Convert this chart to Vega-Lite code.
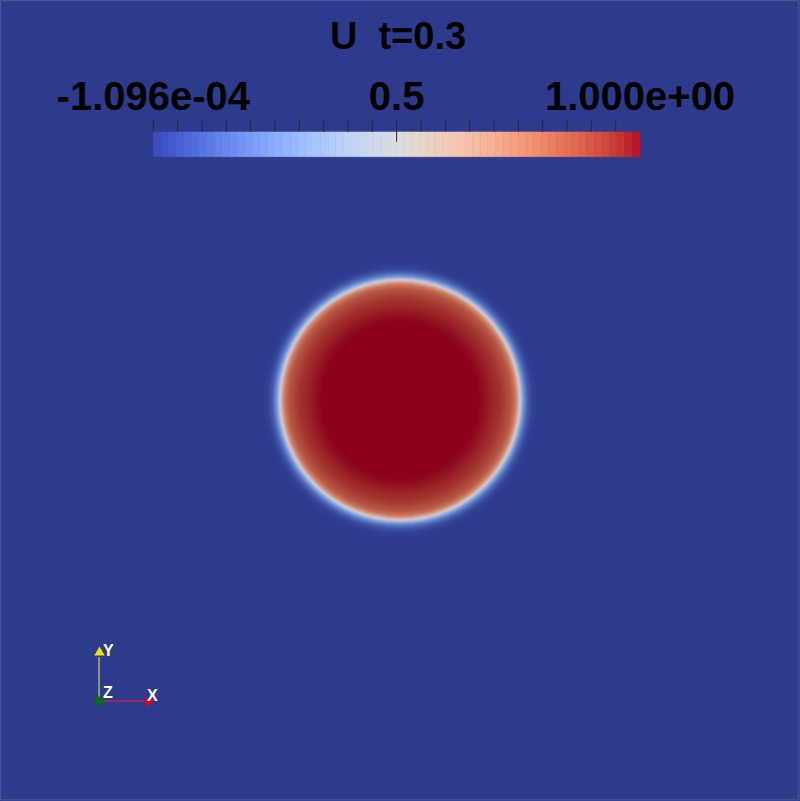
{
  "$schema": "https://vega.github.io/schema/vega-lite/v6.json",
  "width": 800,
  "height": 801,
  "padding": 0,
  "autosize": {"type": "none"},
  "background": "#2E3A8C",
  "config": {
    "view": {"stroke": null},
    "axis": {"disable": true},
    "legend": {"disable": true}
  },
  "resolve": {"scale": {"x": "independent", "color": "independent", "shape": "independent", "size": "independent"}},
  "layer": [
    {
      "data": {"values": [
        {"r": 0.175, "u": 0.003}, {"r": 0.17125, "u": 0.008}, {"r": 0.16875, "u": 0.015}, {"r": 0.16625, "u": 0.025},
        {"r": 0.165, "u": 0.035}, {"r": 0.16375, "u": 0.05}, {"r": 0.1625, "u": 0.065}, {"r": 0.16125, "u": 0.085},
        {"r": 0.16, "u": 0.11}, {"r": 0.15875, "u": 0.14}, {"r": 0.1575, "u": 0.18}, {"r": 0.15625, "u": 0.22},
        {"r": 0.155, "u": 0.27}, {"r": 0.15375, "u": 0.33}, {"r": 0.1525, "u": 0.4}, {"r": 0.15125, "u": 0.47},
        {"r": 0.15, "u": 0.54}, {"r": 0.14875, "u": 0.61}, {"r": 0.1475, "u": 0.67}, {"r": 0.14625, "u": 0.72},
        {"r": 0.145, "u": 0.76}, {"r": 0.14375, "u": 0.79}, {"r": 0.1425, "u": 0.81}, {"r": 0.14125, "u": 0.83},
        {"r": 0.14, "u": 0.845}, {"r": 0.13875, "u": 0.86}, {"r": 0.1375, "u": 0.87}, {"r": 0.135, "u": 0.885},
        {"r": 0.1325, "u": 0.9}, {"r": 0.13, "u": 0.913}, {"r": 0.1275, "u": 0.925}, {"r": 0.125, "u": 0.937},
        {"r": 0.12125, "u": 0.95}, {"r": 0.1175, "u": 0.962}, {"r": 0.11375, "u": 0.973}, {"r": 0.11, "u": 0.982},
        {"r": 0.10625, "u": 0.99}, {"r": 0.1025, "u": 0.996}, {"r": 0.09875, "u": 1.0}
      ]},
      "mark": {"type": "point", "shape": "circle", "filled": true, "opacity": 1, "strokeWidth": 0},
      "encoding": {
        "x": {"datum": 0.5, "type": "quantitative", "scale": {"domain": [0, 1]}},
        "y": {"datum": 0.5006, "type": "quantitative", "scale": {"domain": [0, 1]}},
        "size": {"field": "r", "type": "quantitative", "scale": {"type": "pow", "exponent": 2, "domain": [0, 0.5], "range": [0, 640000], "zero": true}},
        "color": {"field": "u", "type": "quantitative", "scale": {
          "domain": [0, 0.125, 0.25, 0.375, 0.5, 0.625, 0.75, 0.875, 1],
          "range": ["#2E3A8C", "#4E68BB", "#7592D3", "#A0B5D9", "#CACDD6", "#D5AB96", "#CB8066", "#B24D3E", "#8E021E"]
        }}
      }
    },
    {
      "data": {"values": [{"t": "U\u00a0\u00a0t=0.3"}]},
      "mark": {"type": "text", "font": "Liberation Sans", "fontWeight": "bold", "fontSize": 38, "color": "#000000", "align": "center", "baseline": "alphabetic"},
      "encoding": {
        "text": {"field": "t"},
        "x": {"datum": 0.4975, "type": "quantitative", "scale": {"domain": [0, 1]}},
        "y": {"datum": 0.9388, "type": "quantitative", "scale": {"domain": [0, 1]}}
      }
    },
    {
      "data": {"values": [
        {"axis": "Y", "x": 0.1238, "y": 0.1248, "x2": 0.1238, "y2": 0.1798},
        {"axis": "X", "x": 0.1238, "y": 0.1248, "x2": 0.1825, "y2": 0.1248}
      ]},
      "mark": {"type": "rule", "strokeWidth": 1.2},
      "encoding": {
        "x": {"field": "x", "type": "quantitative", "scale": {"domain": [0, 1]}},
        "y": {"field": "y", "type": "quantitative", "scale": {"domain": [0, 1]}},
        "x2": {"field": "x2"},
        "y2": {"field": "y2"},
        "color": {"field": "axis", "type": "nominal", "scale": {"domain": ["X", "Y"], "range": ["#D0203A", "#D8D060"]}}
      }
    },
    {
      "data": {"values": [
        {"axis": "Y", "x": 0.1244, "y": 0.1873},
        {"axis": "X", "x": 0.1875, "y": 0.1242}
      ]},
      "mark": {"type": "point", "filled": true, "size": 110, "opacity": 1},
      "encoding": {
        "x": {"field": "x", "type": "quantitative", "scale": {"domain": [0, 1]}},
        "y": {"field": "y", "type": "quantitative", "scale": {"domain": [0, 1]}},
        "shape": {"field": "axis", "type": "nominal", "scale": {"domain": ["X", "Y"], "range": ["triangle-right", "triangle-up"]}},
        "color": {"field": "axis", "type": "nominal", "scale": {"domain": ["X", "Y"], "range": ["#E00818", "#F0E010"]}}
      }
    },
    {
      "data": {"values": [{"axis": "Z", "x": 0.1238, "y": 0.1248}]},
      "mark": {"type": "point", "filled": true, "shape": "circle", "size": 85, "opacity": 1, "color": "#0B6B12"},
      "encoding": {
        "x": {"field": "x", "type": "quantitative", "scale": {"domain": [0, 1]}},
        "y": {"field": "y", "type": "quantitative", "scale": {"domain": [0, 1]}}
      }
    },
    {
      "data": {"values": [
        {"t": "Y", "x": 0.1288, "y": 0.181},
        {"t": "Z", "x": 0.1288, "y": 0.1286},
        {"t": "X", "x": 0.1838, "y": 0.1248}
      ]},
      "mark": {"type": "text", "font": "Liberation Sans", "fontSize": 16, "fontWeight": "bold", "color": "#FFFFFF", "align": "left", "baseline": "alphabetic"},
      "encoding": {
        "text": {"field": "t"},
        "x": {"field": "x", "type": "quantitative", "scale": {"domain": [0, 1]}},
        "y": {"field": "y", "type": "quantitative", "scale": {"domain": [0, 1]}}
      }
    },
    {
      "data": {"values": [{"k": "frame"}]},
      "mark": {"type": "rect", "filled": false, "stroke": "#6E76AE", "strokeWidth": 1, "strokeOpacity": 0.5},
      "encoding": {
        "x": {"datum": 0.0008, "type": "quantitative", "scale": {"domain": [0, 1]}},
        "x2": {"datum": 0.9985},
        "y": {"datum": 0.0015, "type": "quantitative", "scale": {"domain": [0, 1]}},
        "y2": {"datum": 0.9992}
      }
    },
    {
      "layer": [
        {
          "data": {"values": [
            {"lo": 0, "hi": 0.015625}, {"lo": 0.015625, "hi": 0.03125}, {"lo": 0.03125, "hi": 0.046875}, {"lo": 0.046875, "hi": 0.0625},
            {"lo": 0.0625, "hi": 0.078125}, {"lo": 0.078125, "hi": 0.09375}, {"lo": 0.09375, "hi": 0.109375}, {"lo": 0.109375, "hi": 0.125},
            {"lo": 0.125, "hi": 0.140625}, {"lo": 0.140625, "hi": 0.15625}, {"lo": 0.15625, "hi": 0.171875}, {"lo": 0.171875, "hi": 0.1875},
            {"lo": 0.1875, "hi": 0.203125}, {"lo": 0.203125, "hi": 0.21875}, {"lo": 0.21875, "hi": 0.234375}, {"lo": 0.234375, "hi": 0.25},
            {"lo": 0.25, "hi": 0.265625}, {"lo": 0.265625, "hi": 0.28125}, {"lo": 0.28125, "hi": 0.296875}, {"lo": 0.296875, "hi": 0.3125},
            {"lo": 0.3125, "hi": 0.328125}, {"lo": 0.328125, "hi": 0.34375}, {"lo": 0.34375, "hi": 0.359375}, {"lo": 0.359375, "hi": 0.375},
            {"lo": 0.375, "hi": 0.390625}, {"lo": 0.390625, "hi": 0.40625}, {"lo": 0.40625, "hi": 0.421875}, {"lo": 0.421875, "hi": 0.4375},
            {"lo": 0.4375, "hi": 0.453125}, {"lo": 0.453125, "hi": 0.46875}, {"lo": 0.46875, "hi": 0.484375}, {"lo": 0.484375, "hi": 0.5},
            {"lo": 0.5, "hi": 0.515625}, {"lo": 0.515625, "hi": 0.53125}, {"lo": 0.53125, "hi": 0.546875}, {"lo": 0.546875, "hi": 0.5625},
            {"lo": 0.5625, "hi": 0.578125}, {"lo": 0.578125, "hi": 0.59375}, {"lo": 0.59375, "hi": 0.609375}, {"lo": 0.609375, "hi": 0.625},
            {"lo": 0.625, "hi": 0.640625}, {"lo": 0.640625, "hi": 0.65625}, {"lo": 0.65625, "hi": 0.671875}, {"lo": 0.671875, "hi": 0.6875},
            {"lo": 0.6875, "hi": 0.703125}, {"lo": 0.703125, "hi": 0.71875}, {"lo": 0.71875, "hi": 0.734375}, {"lo": 0.734375, "hi": 0.75},
            {"lo": 0.75, "hi": 0.765625}, {"lo": 0.765625, "hi": 0.78125}, {"lo": 0.78125, "hi": 0.796875}, {"lo": 0.796875, "hi": 0.8125},
            {"lo": 0.8125, "hi": 0.828125}, {"lo": 0.828125, "hi": 0.84375}, {"lo": 0.84375, "hi": 0.859375}, {"lo": 0.859375, "hi": 0.875},
            {"lo": 0.875, "hi": 0.890625}, {"lo": 0.890625, "hi": 0.90625}, {"lo": 0.90625, "hi": 0.921875}, {"lo": 0.921875, "hi": 0.9375},
            {"lo": 0.9375, "hi": 0.953125}, {"lo": 0.953125, "hi": 0.96875}, {"lo": 0.96875, "hi": 0.984375}, {"lo": 0.984375, "hi": 1}
          ]},
          "mark": {"type": "rect", "strokeWidth": 0.6},
          "encoding": {
            "x": {"field": "lo", "type": "quantitative", "scale": {"domain": [-0.315, 1.3287]}},
            "x2": {"field": "hi"},
            "y": {"datum": 0.8352, "type": "quantitative", "scale": {"domain": [0, 1]}},
            "y2": {"datum": 0.8044},
            "color": {"field": "lo", "type": "quantitative", "scale": {
              "domain": [0, 0.0625, 0.125, 0.1875, 0.25, 0.3125, 0.375, 0.4375, 0.5, 0.5625, 0.625, 0.6875, 0.75, 0.8125, 0.875, 0.9375, 0.984375],
              "range": ["#3B4CC0", "#4D68D7", "#6282EA", "#779AF7", "#8DB0FE", "#A3C2FF", "#B8D0F9", "#CCD9EE", "#DDDDDD", "#ECD3C5", "#F5C4AD", "#F7B194", "#F49A7B", "#EC7F63", "#DE604D", "#CB3E38", "#B8162B"]
            }},
            "stroke": {"field": "lo", "type": "quantitative", "scale": {
              "domain": [0, 0.0625, 0.125, 0.1875, 0.25, 0.3125, 0.375, 0.4375, 0.5, 0.5625, 0.625, 0.6875, 0.75, 0.8125, 0.875, 0.9375, 0.984375],
              "range": ["#3B4CC0", "#4D68D7", "#6282EA", "#779AF7", "#8DB0FE", "#A3C2FF", "#B8D0F9", "#CCD9EE", "#DDDDDD", "#ECD3C5", "#F5C4AD", "#F7B194", "#F49A7B", "#EC7F63", "#DE604D", "#CB3E38", "#B8162B"]
            }}
          }
        },
        {
          "data": {"values": [
            {"v": 0}, {"v": 0.05}, {"v": 0.1}, {"v": 0.15}, {"v": 0.2}, {"v": 0.25}, {"v": 0.3}, {"v": 0.35}, {"v": 0.4}, {"v": 0.45},
            {"v": 0.55}, {"v": 0.6}, {"v": 0.65}, {"v": 0.7}, {"v": 0.75}, {"v": 0.8}, {"v": 0.85}, {"v": 0.9}, {"v": 0.95}
          ]},
          "mark": {"type": "rule", "color": "#2A2A2A", "strokeWidth": 1},
          "encoding": {
            "x": {"field": "v", "type": "quantitative", "scale": {"domain": [-0.315, 1.3287]}},
            "y": {"datum": 0.8502, "type": "quantitative", "scale": {"domain": [0, 1]}},
            "y2": {"datum": 0.8352}
          }
        },
        {
          "data": {"values": [{"v": 0.5}]},
          "mark": {"type": "rule", "color": "#2A2A2A", "strokeWidth": 1},
          "encoding": {
            "x": {"field": "v", "type": "quantitative", "scale": {"domain": [-0.315, 1.3287]}},
            "y": {"datum": 0.8502, "type": "quantitative", "scale": {"domain": [0, 1]}},
            "y2": {"datum": 0.8231}
          }
        },
        {
          "data": {"values": [
            {"v": 0, "label": "-1.096e-04"},
            {"v": 0.5, "label": "0.5"},
            {"v": 1, "label": "1.000e+00"}
          ]},
          "mark": {"type": "text", "font": "Liberation Sans", "fontWeight": "bold", "fontSize": 40, "color": "#000000", "align": "center", "baseline": "alphabetic"},
          "encoding": {
            "text": {"field": "label"},
            "x": {"field": "v", "type": "quantitative", "scale": {"domain": [-0.315, 1.3287]}},
            "y": {"datum": 0.8627, "type": "quantitative", "scale": {"domain": [0, 1]}}
          }
        }
      ]
    }
  ]
}
